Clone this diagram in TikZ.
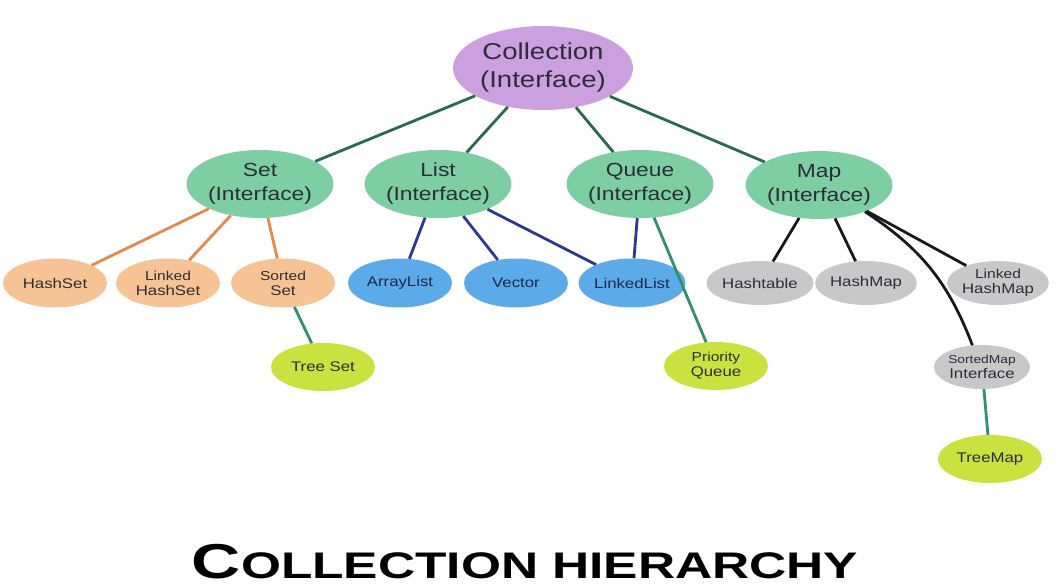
\documentclass[tikz,border=0pt]{standalone}
\usepackage{fontspec}
\setmainfont{Liberation Sans}[FakeStretch=1.2]
\newfontfamily\titlefont{Liberation Sans}[FakeStretch=1.39]
\usetikzlibrary{shapes.geometric}
\definecolor{collcol}{RGB}{204,160,222}
\definecolor{ifacecol}{RGB}{125,206,162}
\definecolor{setcol}{RGB}{246,196,148}
\definecolor{listcol}{RGB}{92,170,232}
\definecolor{mapcol}{RGB}{200,200,200}
\definecolor{leafcol}{RGB}{202,226,64}
\definecolor{txtcol}{RGB}{45,45,55}
\definecolor{listtxt}{RGB}{30,40,80}
\definecolor{topedge}{RGB}{40,105,80}
\definecolor{setedge}{RGB}{226,138,74}
\definecolor{listedge}{RGB}{42,58,140}
\definecolor{greenedge}{RGB}{50,145,105}
\definecolor{mapedge}{RGB}{25,25,25}
\tikzset{
  ell/.style={ellipse, inner sep=0pt, align=center, text=txtcol},
  big/.style={ell, fill=collcol, minimum width=180pt, minimum height=84pt, font=\fontsize{23}{28}\selectfont},
  iface/.style={ell, fill=ifacecol, minimum width=146pt, minimum height=68pt, font=\fontsize{19}{24}\selectfont},
  setleaf/.style={ell, fill=setcol, minimum width=104pt, minimum height=49pt, font=\fontsize{14}{15}\selectfont},
  listleaf/.style={ell, fill=listcol, minimum width=104pt, minimum height=49pt, font=\fontsize{14}{15}\selectfont, text=listtxt},
  mapleaf/.style={ell, fill=mapcol, minimum width=98pt, minimum height=44pt, font=\fontsize{14}{15}\selectfont},
  greenleaf/.style={ell, fill=leafcol, minimum width=104pt, minimum height=48pt, font=\fontsize{14}{15}\selectfont},
  edge/.style={line width=2.8pt},
}
\newcommand{\tbigcap}[1]{{\fontsize{49}{50}\selectfont #1}}
\newcommand{\tsmallcap}[1]{{\fontsize{37}{40}\selectfont #1}}
\begin{document}
\begin{tikzpicture}[x=1pt,y=-1pt]
\useasboundingbox[fill=white] (0,0) rectangle (1057,586);
% nodes
\node[big] (coll) at (543,68) {Collection\\(Interface)};
\node[iface] (set) at (260,184) {Set\\(Interface)};
\node[iface] (list) at (438,184) {List\\(Interface)};
\node[iface] (queue) at (640,184) {Queue\\(Interface)};
\node[iface] (map) at (819,185) {Map\\(Interface)};
\node[setleaf] (hashset) at (55,283) {HashSet};
\node[setleaf] (lhashset) at (168,283) {\fontsize{13}{15}\selectfont Linked\\HashSet};
\node[setleaf] (sortedset) at (283,283) {\fontsize{13}{15}\selectfont Sorted\\Set};
\node[greenleaf] (treeset) at (323,367) {Tree Set};
\node[listleaf] (arraylist) at (400,283) {ArrayList};
\node[listleaf] (vector) at (516,283) {Vector};
\node[listleaf] (linkedlist) at (632,283) {LinkedList};
\node[greenleaf] (pqueue) at (716,366) {\fontsize{13}{15}\selectfont Priority\\Queue};
\node[mapleaf] (hashtable) at (760,283) {Hashtable};
\node[mapleaf] (hashmap) at (866,283) {HashMap};
\node[mapleaf] (lhashmap) at (998,283) {\fontsize{13}{15}\selectfont Linked\\HashMap};
\node[mapleaf, minimum width=96pt, minimum height=44pt] (sortedmap) at (982,367) {\fontsize{11.5}{13}\selectfont SortedMap\\Interface};
\node[greenleaf] (treemap) at (990,459) {TreeMap};
% edges
\draw[edge, topedge] (coll) -- (set);
\draw[edge, topedge] (coll) -- (list);
\draw[edge, topedge] (coll) -- (queue);
\draw[edge, topedge] (coll) -- (map);
\draw[edge, setedge] (set) -- (hashset);
\draw[edge, setedge] (set) -- (lhashset);
\draw[edge, setedge] (set) -- (sortedset);
\draw[edge, greenedge] (sortedset) -- (treeset);
\draw[edge, listedge] (list) -- (arraylist);
\draw[edge, listedge] (list) -- (vector);
\draw[edge, listedge] (list) -- (linkedlist);
\draw[edge, listedge] (queue) -- (linkedlist);
\draw[edge, greenedge] (queue) -- (pqueue);
\draw[edge, mapedge] (map) -- (hashtable);
\draw[edge, mapedge] (map) -- (hashmap);
\draw[edge, mapedge] (map) -- (lhashmap);
\draw[edge, mapedge] (map) to[bend left=18] (sortedmap);
\draw[edge, greenedge] (sortedmap) -- (treemap);
% title
\node[font=\titlefont\bfseries, inner sep=0pt, anchor=base] (title) at (525,578)
  {\tbigcap{C}\tsmallcap{OLLECTION HIERARCHY}};
\end{tikzpicture}
\end{document}
